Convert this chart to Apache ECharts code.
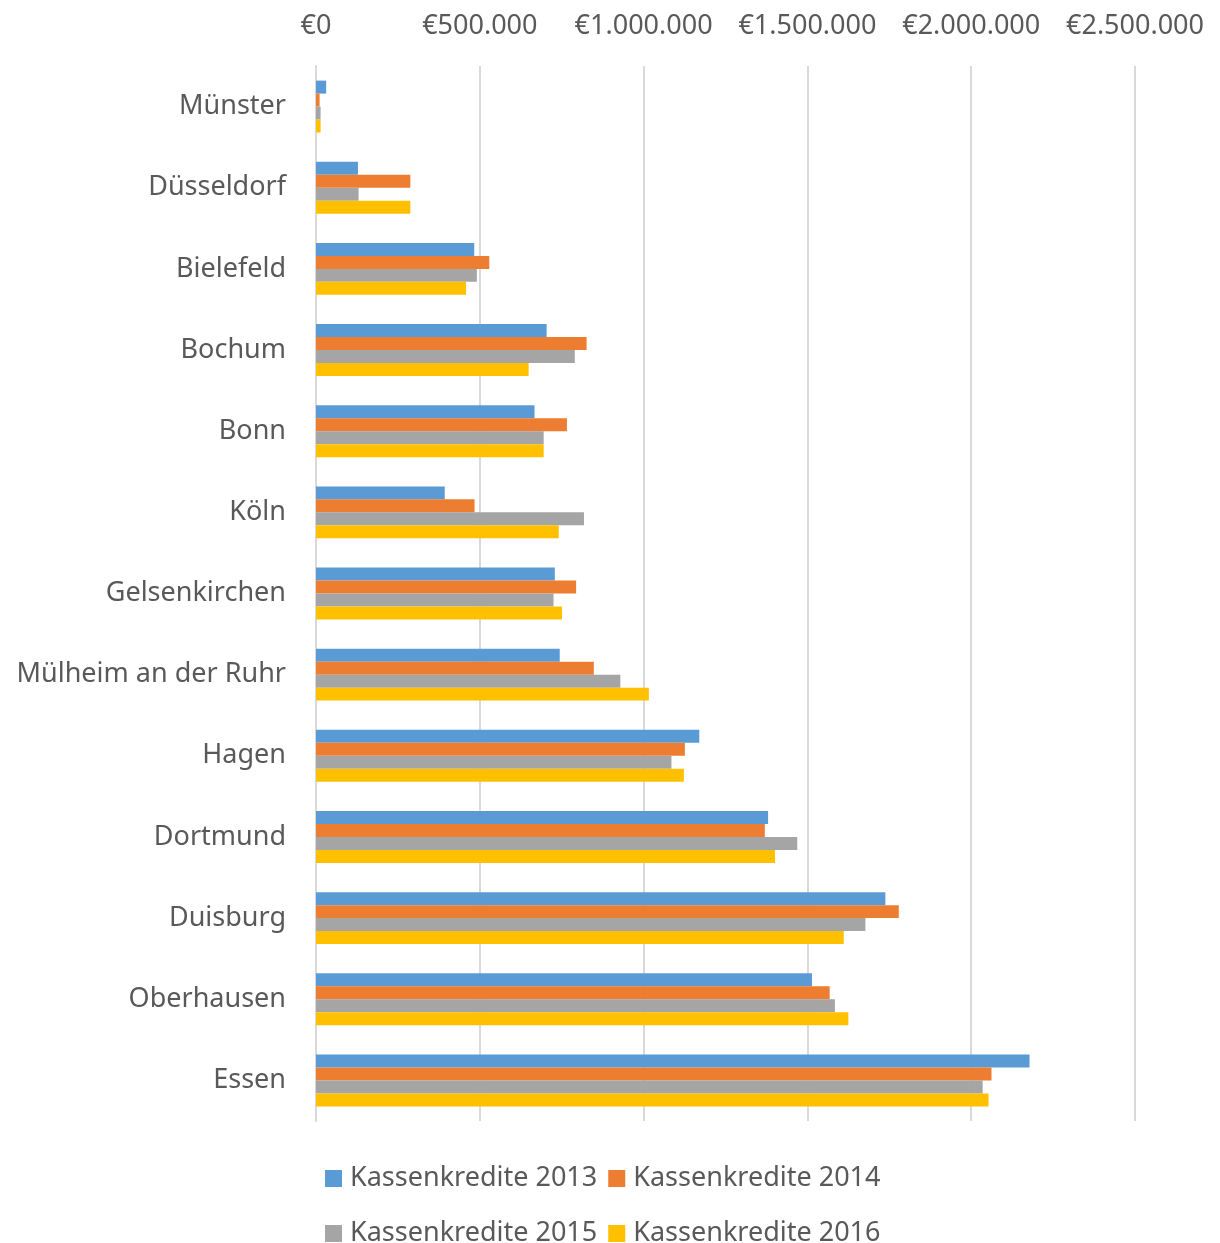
<!DOCTYPE html>
<html>
<head>
<meta charset="utf-8">
<script src="https://cdn.jsdelivr.net/npm/echarts@6/dist/echarts.min.js"></script>
<style>
html,body{margin:0;padding:0;background:#fff;}
#chart{width:1220px;height:1243px;}
</style>
</head>
<body>
<div id="chart"></div>
<script>
const categories = ['Münster','Düsseldorf','Bielefeld','Bochum','Bonn','Köln','Gelsenkirchen','Mülheim an der Ruhr','Hagen','Dortmund','Duisburg','Oberhausen','Essen'];
const seriesNames = ['Kassenkredite 2013','Kassenkredite 2014','Kassenkredite 2015','Kassenkredite 2016'];
const k2013 = [31000,128000,483000,704000,667000,393000,729000,744000,1170000,1380000,1738000,1514000,2178000];
const k2014 = [11000,288000,529000,826000,766000,484000,794000,848000,1126000,1370000,1779000,1568000,2062000];
const k2015 = [14000,130000,491000,790000,695000,818000,725000,929000,1085000,1469000,1677000,1584000,2035000];
const k2016 = [14000,288000,458000,649000,695000,741000,751000,1016000,1123000,1401000,1611000,1625000,2053000];
const xTickLabels = ['€0','€500.000','€1.000.000','€1.500.000','€2.000.000','€2.500.000'];
const colors = ['#5B9BD5','#ED7D31','#A5A5A5','#FFC000'];
const FONT = 'Noto Sans';
const TXT = '#595959';

const chart = echarts.init(document.getElementById('chart'), null, {renderer:'canvas'});
const allData = [k2013,k2014,k2015,k2016];
chart.setOption({
  animation:false,
  textStyle:{fontFamily:FONT},
  grid:{left:316,top:66,width:819,height:1055,containLabel:false},
  legend:[
    {data:seriesNames.slice(0,2),left:320,top:1160,itemWidth:17,itemHeight:17,itemGap:11,icon:'rect',
     textStyle:{fontFamily:FONT,fontSize:27,color:TXT,padding:[0,0,0,3]}},
    {data:seriesNames.slice(2,4),left:320,top:1215,itemWidth:17,itemHeight:17,itemGap:11,icon:'rect',
     textStyle:{fontFamily:FONT,fontSize:27,color:TXT,padding:[0,0,0,3]}}
  ],
  xAxis:{type:'value',position:'top',min:0,max:2500000,interval:500000,
    axisLine:{show:false},axisTick:{show:false},
    splitLine:{show:true,lineStyle:{color:'#D9D9D9',width:2}},
    axisLabel:{margin:26,fontSize:27,color:TXT,fontFamily:FONT,
      formatter:function(v){return xTickLabels[Math.round(v/500000)];}}
  },
  yAxis:{type:'category',data:categories,inverse:true,
    axisLine:{show:true,lineStyle:{color:'#D9D9D9',width:2}},
    axisTick:{show:false},
    axisLabel:{margin:30,fontSize:27,color:TXT,fontFamily:FONT,padding:[4,0,0,0]}
  },
  series:seriesNames.map((n,i)=>({
    name:n,type:'bar',data:allData[i],barGap:'0%',barCategoryGap:'36%',
    itemStyle:{color:colors[i]}
  }))
});
</script>
</body>
</html>
